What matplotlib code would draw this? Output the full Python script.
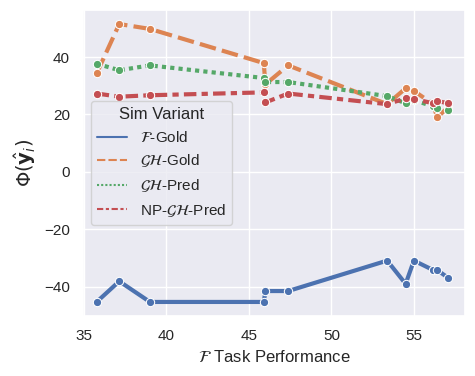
import matplotlib
matplotlib.use('Agg')
import matplotlib.pyplot as plt
from matplotlib.lines import Line2D
import seaborn as sns

sns.set_theme(style='darkgrid')
plt.rcParams['font.family'] = ['Liberation Sans', 'DejaVu Sans']

# task performance (x) shared by all variants
task_perf = [35.77, 37.14, 39.0, 45.9, 46.0, 47.38, 53.38, 54.5, 55.0, 56.17, 56.41, 57.08]

f_gold = [-45.3, -38.1, -45.3, -45.3, -41.5, -41.5, -30.9, -39.0, -30.9, -34.2, -34.2, -36.9]
gh_gold = [34.3, 51.5, 49.8, 37.9, 30.5, 37.1, 23.6, 29.1, 28.2, 23.6, 19.0, 22.5]
gh_pred = [37.7, 35.4, 37.1, 32.7, 31.3, 31.3, 26.4, 23.9, 25.0, 22.8, 22.1, 21.6]
np_gh_pred = [27.3, 26.2, 26.7, 27.7, 24.2, 27.3, 23.6, 25.6, 25.4, 23.9, 24.7, 23.9]

labels = [r'$\mathcal{F}$-Gold', r'$\mathcal{GH}$-Gold', r'$\mathcal{GH}$-Pred', r'NP-$\mathcal{GH}$-Pred']
series = [f_gold, gh_gold, gh_pred, np_gh_pred]
colors = sns.color_palette('deep')[:4]
dashes = [(None, None), (4, 1.5), (1, 1), (3, 1.25, 1.5, 1.25)]

fig = plt.figure(figsize=(4.75, 3.76), dpi=100)
ax = fig.add_axes([0.175, 0.16, 0.804, 0.813])

handles = []
for ys, lab, c, d in zip(series, labels, colors, dashes):
    line, = ax.plot(task_perf, ys, color=c, lw=3, marker='o', markersize=6,
                    markeredgecolor='white', markeredgewidth=0.75)
    if d[0] is not None:
        line.set_dashes(d)
    h = Line2D([], [], color=c, lw=1.5)
    if d[0] is not None:
        h.set_dashes(d)
    handles.append(h)

ax.set_xlim(34.95, 58.1)
ax.set_xlabel(r'$\mathcal{F}$ Task Performance', fontsize=12)
ax.set_ylabel(r'$\Phi(\hat{\mathbf{y}}_i)$', fontsize=14)
ax.tick_params(labelsize=11)
ax.legend(handles, labels, title='Sim Variant', loc='center left', fontsize=11,
          title_fontsize=12)

fig.savefig('out.png', dpi=100)
